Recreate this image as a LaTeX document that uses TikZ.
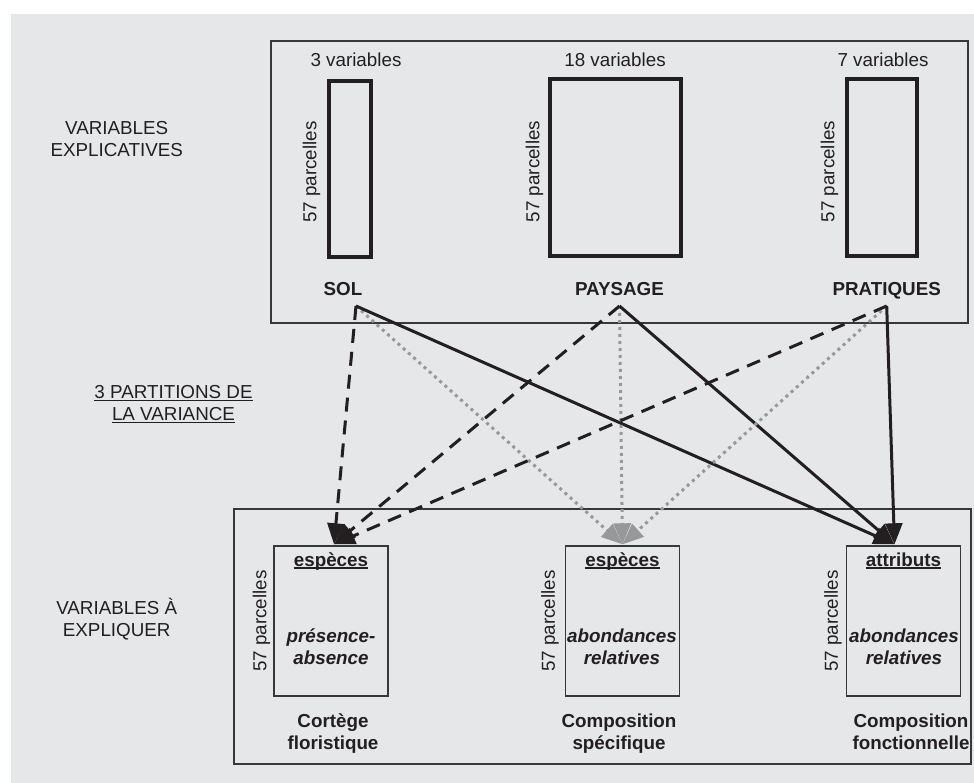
\documentclass[tikz,border=0pt]{standalone}
\usepackage{fontspec}
\setmainfont{Liberation Sans}
\usepackage{tikz}
\usetikzlibrary{positioning,arrows.meta,calc}
\definecolor{Ink}{HTML}{231F20}
\definecolor{Frame}{HTML}{38383A}
\definecolor{Paper}{HTML}{E6E7E9}
\definecolor{Dots}{HTML}{97989A}
\newsavebox{\undlbox}
\newcommand{\undl}[2][1.5pt]{%
  \sbox{\undlbox}{#2}%
  \rlap{\rule[-3pt]{\wd\undlbox}{#1}}\usebox{\undlbox}}

\begin{document}
\begin{tikzpicture}[
  x=1pt,
  y=-1pt,
  every node/.style={
    font=\fontsize{18.8}{22}\selectfont,
    text=Ink,
    align=center,
    inner sep=0pt
  },
  group/.style={
    draw=Frame,
    line width=1.3pt
  },
  table/.style={
    draw=Ink,
    line width=3.4pt
  },
  result/.style={
    draw=Frame,
    line width=1.4pt,
    minimum width=114pt,
    minimum height=150pt
  },
  rows/.style={
    rotate=90,
    anchor=base
  },
  arr/.style={
    line width=3pt,
    -{Triangle[length=21pt,width=17pt]}
  },
  arr dash/.style={arr, Ink, dash pattern=on 14pt off 9pt},
  arr dot/.style={arr, Dots, dash pattern=on 3pt off 4pt},
  arr line/.style={arr, Ink}
]

% page and background
\fill[white] (0,0) rectangle (974,783);
\fill[Paper] (11,14) rectangle (974,783);
\useasboundingbox (0,0) rectangle (974,783);

% left column (base = last line)
\node[anchor=base] (expltxt) at (116.7,157)
{VARIABLES\\EXPLICATIVES};

\node[anchor=base] (parttxt) at (173.5,420)
{\undl{3 PARTITIONS DE}\\\undl{LA VARIANCE}};

\node[anchor=base] (reptxt) at (116.7,636)
{VARIABLES À\\EXPLIQUER};

% explanatory tables
\node[
  group,
  minimum width=697pt,
  minimum height=282pt
] (expl) at (619.5,182) {};

\node[
  table,
  minimum width=42pt,
  minimum height=176pt
] (sol) at (350,169) {};

\node[
  table,
  minimum width=131pt,
  minimum height=177pt
] (pay) at (615.5,167.5) {};

\node[
  table,
  minimum width=70pt,
  minimum height=177pt
] (pra) at (882,167.5) {};

\node[anchor=base] (solvar) at (356,67) {3 variables};
\node[anchor=base] (payvar) at (615,67) {18 variables};
\node[anchor=base] (pravar) at (883,67) {7 variables};

\node[rows] (solrow) at ([xshift=-11pt,yshift=-3pt]sol.west) {57 parcelles};
\node[rows] (payrow) at ([xshift=-9pt,yshift=-4pt]pay.west) {57 parcelles};
\node[rows] (prarow) at ([xshift=-11pt,yshift=-4pt]pra.west) {57 parcelles};

\node[anchor=base, font=\fontsize{18.8}{22}\selectfont\bfseries] (sollab) at (343,296) {SOL};
\node[anchor=base, font=\fontsize{18.8}{22}\selectfont\bfseries] (paylab) at (619.5,296) {PAYSAGE};
\node[anchor=base, font=\fontsize{18.8}{22}\selectfont\bfseries] (pralab) at (886.7,296) {PRATIQUES};

% response tables
\node[
  group,
  minimum width=737pt,
  minimum height=255pt
] (rep) at (602.5,636.5) {};

\node[result] (flo) at (331,621) {};
\node[result] (spe) at (622.5,621) {};
\node[result] (fon) at (903.5,621) {};

\node[anchor=base, font=\fontsize{18.8}{22}\selectfont\bfseries] (flohead) at (331,566) {\undl[2.4pt]{espèces}};
\node[anchor=base, font=\fontsize{18.8}{22}\selectfont\bfseries] (spehead) at (622.5,566) {\undl[2.4pt]{espèces}};
\node[anchor=base, font=\fontsize{18.8}{22}\selectfont\bfseries] (fonhead) at (903.5,566) {\undl[2.4pt]{attributs}};

\node[anchor=base, font=\fontsize{18.8}{22}\selectfont\bfseries\itshape] (flotype) at (331,664) {présence-\\absence};
\node[anchor=base, font=\fontsize{18.8}{22}\selectfont\bfseries\itshape] (spetype) at (622,664) {abondances\\relatives};
\node[anchor=base, font=\fontsize{18.8}{22}\selectfont\bfseries\itshape] (fontype) at (904,664) {abondances\\relatives};

\node[rows] (florow) at ([xshift=-7pt]flo.west) {57 parcelles};
\node[rows] (sperow) at ([xshift=-10pt]spe.west) {57 parcelles};
\node[rows] (fonrow) at ([xshift=-8pt]fon.west) {57 parcelles};

\node[anchor=base, font=\fontsize{18.8}{22}\selectfont\bfseries] (flolab) at (333,749) {Cortège\\floristique};
\node[anchor=base, font=\fontsize{18.8}{22}\selectfont\bfseries] (spelab) at (619,749) {Composition\\spécifique};
\node[anchor=base, font=\fontsize{18.8}{22}\selectfont\bfseries] (fonlab) at (911,749) {Composition\\fonctionnelle};

% partitions
\coordinate (sol-out) at ($(sollab.base)+(13,10)$);
\coordinate (pay-out) at ($(paylab.base)+(0,10)$);
\coordinate (pra-out) at ($(pralab.base)+(0,10)$);
\coordinate (flo-in) at ([xshift=3pt,yshift=1pt]flo.north);
\coordinate (spe-in) at ([yshift=1pt]spe.north);
\coordinate (fon-in) at ([xshift=-9pt,yshift=1pt]fon.north);

\foreach \s in {sol,pay,pra}{
  \draw[arr dot] (\s-out) -- (spe-in);
  \draw[arr dash] (\s-out) -- (flo-in);
  \draw[arr line] (\s-out) -- (fon-in);
}

\end{tikzpicture}
\end{document}
